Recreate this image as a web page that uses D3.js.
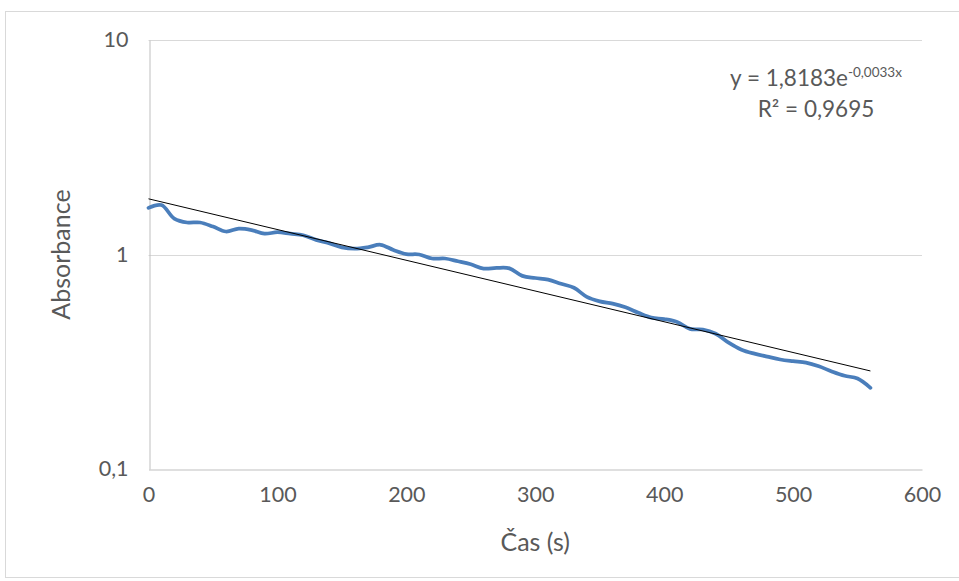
<!DOCTYPE html>
<html>
<head>
<meta charset="utf-8">
<script src="https://cdn.jsdelivr.net/npm/d3@7"></script>
<style>
  html, body { margin: 0; padding: 0; background: #ffffff; }
  svg { display: block; }
  text { font-family: Lato, "Open Sans", sans-serif; fill: #595959; }
</style>
</head>
<body>
<svg id="chart" width="959" height="581"></svg>
<script>
// Measured absorbance over time
const timeSec = [0, 10, 20, 30, 40, 50, 60, 70, 80, 90,
  100, 110, 120, 130, 140, 150, 160, 170, 180, 190,
  200, 210, 220, 230, 240, 250, 260, 270, 280, 290,
  300, 310, 320, 330, 340, 350, 360, 370, 380, 390,
  400, 410, 420, 430, 440, 450, 460, 470, 480, 490,
  500, 510, 520, 530, 540, 550, 560];
const absorbance = [1.65, 1.70, 1.47, 1.41, 1.41, 1.35, 1.28, 1.32, 1.30, 1.25,
  1.27, 1.25, 1.23, 1.17, 1.13, 1.08, 1.065, 1.08, 1.11, 1.05,
  1.005, 1.00, 0.958, 0.958, 0.93, 0.90, 0.86, 0.866, 0.862, 0.795,
  0.777, 0.763, 0.73, 0.70, 0.635, 0.605, 0.59, 0.567, 0.535, 0.508,
  0.50, 0.485, 0.45, 0.447, 0.427, 0.388, 0.36, 0.345, 0.334, 0.324,
  0.318, 0.313, 0.301, 0.285, 0.272, 0.264, 0.239];

// Exponential trendline y = a·e^(b·x)
const trendA = 1.8183;
const trendB = -0.0033;
const trendR2 = "0,9695";

const xTicks = [0, 100, 200, 300, 400, 500, 600];
const yTicks = [0.1, 1, 10];
const yTickLabels = ["0,1", "1", "10"];

const svg = d3.select("#chart");

// chart frame
svg.append("rect")
  .attr("x", 5.5).attr("y", 11.5)
  .attr("width", 960).attr("height", 566)
  .attr("fill", "#ffffff")
  .attr("stroke", "#d9d9d9")
  .attr("stroke-width", 1);

const plot = { left: 148.5, right: 922, top: 40, bottom: 469 };

const x = d3.scaleLinear().domain([0, 600]).range([plot.left, plot.right]);
const y = d3.scaleLog().domain([0.1, 10]).range([plot.bottom, plot.top]);

// horizontal gridlines
svg.append("g")
  .selectAll("line")
  .data(yTicks.filter(v => v > 0.1))
  .join("line")
  .attr("x1", plot.left).attr("x2", plot.right)
  .attr("y1", d => Math.round(y(d)) + 0.5)
  .attr("y2", d => Math.round(y(d)) + 0.5)
  .attr("stroke", "#d9d9d9")
  .attr("stroke-width", 1);

// axes
const xAxis = d3.axisBottom(x).tickValues(xTicks).tickSize(0).tickPadding(17)
  .tickFormat(d3.format("d"));
const gx = svg.append("g")
  .attr("transform", `translate(0,${Math.round(plot.bottom) + 0.5})`)
  .call(xAxis);
gx.select(".domain").attr("stroke", "#bfbfbf");
gx.selectAll("text")
  .attr("font-size", 21.5)
  .attr("font-family", "Lato, sans-serif")
  .attr("fill", "#595959");

const yAxis = d3.axisLeft(y).tickValues(yTicks).tickSize(0).tickPadding(21)
  .tickFormat((d, i) => yTickLabels[i]);
const gy = svg.append("g")
  .attr("transform", `translate(${Math.round(plot.left) + 0.5},0)`)
  .call(yAxis);
gy.select(".domain").attr("stroke", "#bfbfbf");
gy.selectAll("text")
  .attr("font-size", 21.5)
  .attr("font-family", "Lato, sans-serif")
  .attr("fill", "#595959");

// data series
const pts = timeSec.map((t, i) => [t, absorbance[i]]);
const line = d3.line()
  .x(d => x(d[0]))
  .y(d => y(d[1]))
  .curve(d3.curveCatmullRom.alpha(0.5));

svg.append("path")
  .datum(pts)
  .attr("d", line)
  .attr("fill", "none")
  .attr("stroke", "#4a7ebb")
  .attr("stroke-width", 3.75)
  .attr("stroke-linejoin", "round")
  .attr("stroke-linecap", "round");

// trendline (straight on a log axis)
const tEnd = timeSec[timeSec.length - 1];
const trendPts = [[0, trendA], [tEnd, trendA * Math.exp(trendB * tEnd)]];
svg.append("path")
  .datum(trendPts)
  .attr("d", d3.line().x(d => x(d[0])).y(d => y(d[1])))
  .attr("fill", "none")
  .attr("stroke", "#000000")
  .attr("stroke-width", 1);

// trendline equation
const eq = svg.append("text")
  .attr("x", 816).attr("y", 86)
  .attr("text-anchor", "middle")
  .attr("font-size", 22.5);
eq.append("tspan").text("y = " + String(trendA).replace(".", ",") + "e");
eq.append("tspan")
  .attr("font-size", 13.5)
  .attr("dy", -9)
  .text(String(trendB).replace(".", ",") + "x");

svg.append("text")
  .attr("x", 816).attr("y", 117)
  .attr("text-anchor", "middle")
  .attr("font-size", 22.5)
  .text("R² = " + trendR2);

// axis titles
svg.append("text")
  .attr("x", (plot.left + plot.right) / 2)
  .attr("y", 551)
  .attr("text-anchor", "middle")
  .attr("font-size", 25)
  .text("Čas (s)");

svg.append("text")
  .attr("transform", `translate(70,${(plot.top + plot.bottom) / 2}) rotate(-90)`)
  .attr("text-anchor", "middle")
  .attr("font-size", 25)
  .text("Absorbance");
</script>
</body>
</html>
